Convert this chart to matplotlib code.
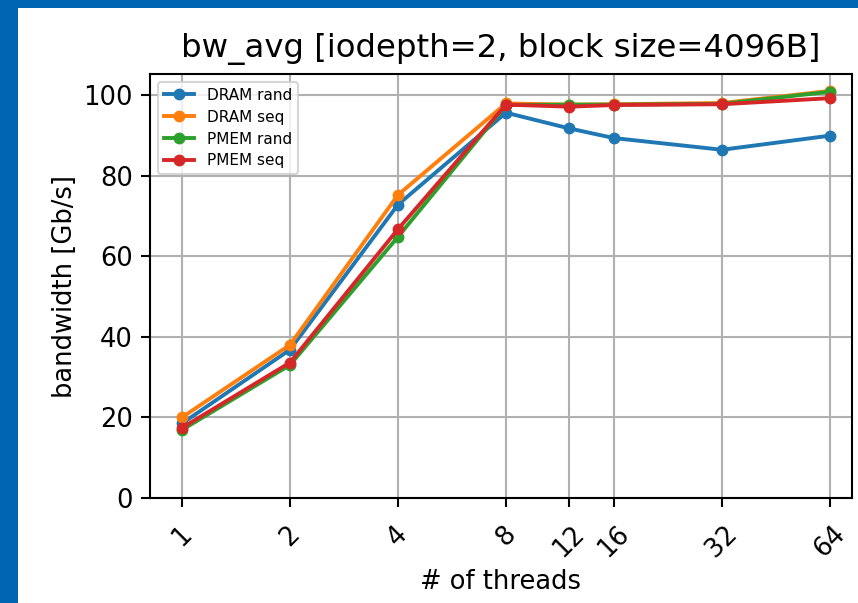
import numpy as np
import matplotlib
matplotlib.use("Agg")
import matplotlib.pyplot as plt
from matplotlib.patches import Rectangle

# -------------------- data --------------------
threads = [1, 2, 4, 8, 12, 16, 32, 64]
dram_rand = [18.5, 36.8, 72.8, 95.6, 91.7, 89.3, 86.4, 89.9]
dram_seq = [20.0, 38.0, 75.2, 97.9, 97.6, 97.7, 98.0, 101.0]
pmem_rand = [16.9, 33.0, 64.8, 97.5, 97.6, 97.6, 97.8, 100.8]
pmem_seq = [17.4, 33.6, 66.7, 97.6, 97.1, 97.5, 97.7, 99.2]

series = {
    "DRAM rand": dram_rand,
    "DRAM seq": dram_seq,
    "PMEM rand": pmem_rand,
    "PMEM seq": pmem_seq,
}

# -------------------- style --------------------
fs = 18.5
W, H = 858, 603

fig = plt.figure(figsize=(W / 100, H / 100), dpi=100)
fig.patch.set_facecolor("#0066b3")
# white page inside the blue frame (left + top strips)
fig.patches.append(Rectangle((18 / W, 0), 1 - 18 / W, 1 - 8 / H,
                             transform=fig.transFigure, facecolor="white",
                             edgecolor="none", zorder=-10))

ax = fig.add_axes([150 / W, 1 - 498 / H, (852 - 150) / W, (498 - 74) / H])

for name, vals in series.items():
    ax.plot(threads, vals, marker="o", markersize=7.5, linewidth=2.8, label=name)

ax.set_xscale("log", base=2)
ax.set_xticks(threads)
ax.set_xticklabels([str(t) for t in threads], rotation=45)
ax.minorticks_off()
ax.set_xlim(2 ** (-32 / 108), 2 ** (6 + 22 / 108))
ax.set_ylim(0, 105.2)
ax.set_yticks([0, 20, 40, 60, 80, 100])

ax.grid(True, color="#b0b0b0", linewidth=1.5)
for sp in ax.spines.values():
    sp.set_linewidth(1.5)
ax.tick_params(labelsize=fs, width=1.5, length=6.5, pad=6)
ax.tick_params(axis="x", pad=10)

ax.set_xlabel("# of threads", fontsize=fs, labelpad=5)
ax.set_ylabel("bandwidth [Gb/s]", fontsize=fs)
ax.set_title("bw_avg [iodepth=2, block size=4096B]", fontsize=23.3, pad=12)

leg = ax.legend(loc="upper left", fontsize=11, handlelength=2.0,
                borderpad=0.4, labelspacing=0.45)
leg.get_frame().set_linewidth(1.5)

fig.savefig("out.png", dpi=100, facecolor=fig.get_facecolor())
